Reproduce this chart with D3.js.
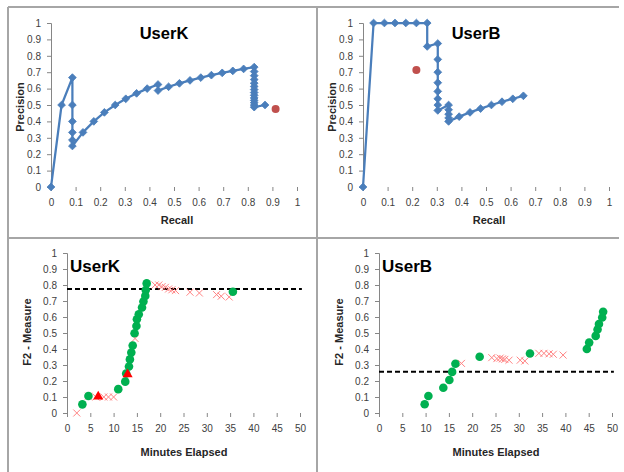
<!DOCTYPE html>
<html>
<head>
<meta charset="utf-8">
<script src="https://cdn.jsdelivr.net/npm/d3@7"></script>
<style>
  body { margin: 0; background: #fff; }
  text { font-family: "Liberation Sans", Arial, sans-serif; }
</style>
</head>
<body>
<svg id="chart" width="624" height="472"></svg>
<script>
// precision / recall curves: [recall, precision]
const userKPR = [[0,0],[0.043,0.5],[0.087,0.667],[0.087,0.5],[0.087,0.4],[0.087,0.333],[0.087,0.286],[0.087,0.25],
  [0.13,0.333],[0.174,0.4],[0.217,0.455],[0.261,0.5],[0.304,0.538],[0.348,0.571],[0.391,0.6],[0.435,0.625],[0.435,0.588],
  [0.478,0.611],[0.522,0.632],[0.565,0.65],[0.609,0.667],[0.652,0.682],[0.696,0.696],[0.739,0.708],[0.783,0.72],
  [0.826,0.731],[0.826,0.704],[0.826,0.679],[0.826,0.655],[0.826,0.633],[0.826,0.613],[0.826,0.594],[0.826,0.576],
  [0.826,0.559],[0.826,0.543],[0.826,0.528],[0.826,0.514],[0.826,0.5],[0.826,0.487],[0.87,0.5]];
const userKFinal = [[0.913,0.476]];

const userBPR = [[0,0],[0.043,1],[0.087,1],[0.13,1],[0.174,1],[0.217,1],[0.261,1],[0.261,0.857],[0.304,0.875],
  [0.304,0.778],[0.304,0.7],[0.304,0.636],[0.304,0.583],[0.304,0.538],[0.304,0.5],[0.304,0.467],[0.348,0.5],
  [0.348,0.471],[0.348,0.444],[0.348,0.421],[0.348,0.4],[0.391,0.429],[0.435,0.455],[0.478,0.478],[0.522,0.5],
  [0.565,0.52],[0.609,0.538],[0.652,0.556]];
const userBFinal = [[0.217,0.714]];

// F2 over time: [minutes, F2]
const userKGood = [[3.3,0.054],[4.6,0.106],[11.0,0.149],[12.5,0.196],[12.7,0.247],[13.3,0.291],[13.5,0.335],
  [13.8,0.378],[14.1,0.422],[14.5,0.498],[14.9,0.544],[15.0,0.586],[15.4,0.617],[16.1,0.659],[16.4,0.697],
  [16.8,0.732],[16.9,0.768],[17.1,0.81],[35.6,0.758]];
const userKTri = [[6.7,0.102],[13.0,0.242]];
const userKBad = [[2.1,0.0],[4.6,0.105],[6.2,0.1],[7.9,0.1],[8.9,0.1],[10.0,0.1],[14.6,0.466],
  [18.9,0.80],[19.7,0.80],[20.4,0.79],[21.1,0.785],[21.8,0.775],[22.5,0.77],[23.3,0.765],
  [26.4,0.755],[28.4,0.75],[32.1,0.74],[33.1,0.73],[34.8,0.725]];
const userKLevel = 0.775;

const userBGood = [[9.8,0.055],[10.6,0.106],[13.8,0.158],[15.1,0.206],[15.7,0.257],[16.4,0.308],[21.6,0.352],
  [32.4,0.372],[44.6,0.40],[45.1,0.44],[46.5,0.482],[46.9,0.522],[47.2,0.556],[47.9,0.597],[48.1,0.633]];
const userBBad = [[17.7,0.31],[24.2,0.346],[25.3,0.34],[26.0,0.343],[26.5,0.338],[27.0,0.335],[27.9,0.33],
  [30.3,0.33],[31.3,0.325],[34.3,0.373],[35.4,0.373],[36.5,0.37],[37.4,0.367],[39.5,0.362]];
const userBLevel = 0.258;

const unitTicks = [0,0.1,0.2,0.3,0.4,0.5,0.6,0.7,0.8,0.9,1];
const minuteTicks = [0,5,10,15,20,25,30,35,40,45,50];

const svg = d3.select('#chart');

// panel frames
const frame = svg.append('g').attr('stroke', '#a6a6a6').attr('stroke-width', 2);
frame.append('line').attr('x1', 8).attr('x2', 619).attr('y1', 7).attr('y2', 7);
frame.append('line').attr('x1', 8).attr('x2', 619).attr('y1', 238).attr('y2', 238);
frame.append('line').attr('x1', 8).attr('x2', 8).attr('y1', 7).attr('y2', 472);
frame.append('line').attr('x1', 317).attr('x2', 317).attr('y1', 7).attr('y2', 472);

function axes(x, y, xTicks, yTicks) {
  const gy = svg.append('g')
    .attr('transform', `translate(${x.range()[0]},0)`)
    .call(d3.axisLeft(y).tickValues(yTicks).tickSize(4).tickPadding(6).tickFormat(d => d));
  const gx = svg.append('g')
    .attr('transform', `translate(0,${y.range()[0]})`)
    .call(d3.axisBottom(x).tickValues(xTicks).tickSize(4).tickPadding(8).tickFormat(d => d));
  gx.select('.domain').remove();
  [gx, gy].forEach(g => {
    g.selectAll('path, line').attr('stroke', '#868686');
    g.selectAll('text').attr('fill', '#404040').style('font-size', '10px');
  });
}

function axisTitles(xLabel, xPos, yLabel, yPos) {
  svg.append('text').attr('x', xPos[0]).attr('y', xPos[1])
    .attr('text-anchor', 'middle').style('font-size', '11px').style('font-weight', 'bold')
    .attr('fill', '#262626').text(xLabel);
  svg.append('text').attr('transform', `translate(${yPos[0]},${yPos[1]}) rotate(-90)`)
    .attr('text-anchor', 'middle').style('font-size', '11px').style('font-weight', 'bold')
    .attr('fill', '#262626').text(yLabel);
}

function drawPR(left, name, curve, final, titleX) {
  const x = d3.scaleLinear().domain([0, 1]).range([left, left + 246]);
  const y = d3.scaleLinear().domain([0, 1]).range([187, 23]);
  axes(x, y, unitTicks, unitTicks);

  const line = d3.line().x(d => x(d[0])).y(d => y(d[1]));
  svg.append('path').datum(curve)
    .attr('fill', 'none').attr('stroke', '#4a7ebb').attr('stroke-width', 2.25)
    .attr('stroke-linejoin', 'round').attr('d', line);

  const diamond = d3.symbol(d3.symbolSquare, 30);
  svg.append('g').selectAll('path').data(curve).join('path')
    .attr('transform', d => `translate(${x(d[0])},${y(d[1])}) rotate(45)`)
    .attr('d', diamond).attr('fill', '#4a7ebb').attr('stroke', '#4a7ebb').attr('stroke-width', 0.8);

  svg.append('g').selectAll('circle').data(final).join('circle')
    .attr('cx', d => x(d[0])).attr('cy', d => y(d[1])).attr('r', 4)
    .attr('fill', '#c0504d');

  svg.append('text').attr('x', titleX).attr('y', 39).attr('text-anchor', 'middle')
    .style('font-size', '16.5px').style('font-weight', 'bold').attr('fill', '#000').text(name);

  axisTitles('Recall', [left + 126, 224], 'Precision', [left - 27, 107]);
}

function drawF2(left, name, good, tri, bad, level) {
  const x = d3.scaleLinear().domain([0, 50]).range([left, left + 233]);
  const y = d3.scaleLinear().domain([0, 1]).range([413, 253]);
  axes(x, y, minuteTicks, unitTicks);

  svg.append('line')
    .attr('x1', x(0)).attr('x2', x(50.4)).attr('y1', y(level)).attr('y2', y(level))
    .attr('stroke', '#000').attr('stroke-width', 2).attr('stroke-dasharray', '5,3');

  svg.append('g').selectAll('path').data(bad).join('path')
    .attr('transform', d => `translate(${x(d[0])},${y(d[1])})`)
    .attr('d', 'M-3.5,-3.5L3.5,3.5M-3.5,3.5L3.5,-3.5')
    .attr('stroke', '#ff6f6f').attr('stroke-width', 1).attr('opacity', 0.85);

  svg.append('g').selectAll('circle').data(good).join('circle')
    .attr('cx', d => x(d[0])).attr('cy', d => y(d[1])).attr('r', 4.3)
    .attr('fill', '#00b050');

  svg.append('g').selectAll('path').data(tri).join('path')
    .attr('transform', d => `translate(${x(d[0])},${y(d[1])})`)
    .attr('d', d3.symbol(d3.symbolTriangle, 45)).attr('fill', '#ff0000');

  svg.append('text').attr('x', left + 3).attr('y', 272)
    .style('font-size', '17px').style('font-weight', 'bold').attr('fill', '#000').text(name);

  axisTitles('Minutes Elapsed', [left + 117, 456], 'F2 - Measure', [left - 36, 332]);
}

drawPR(51, 'UserK', userKPR, userKFinal, 164);
drawPR(363, 'UserB', userBPR, userBFinal, 476);
drawF2(67, 'UserK', userKGood, userKTri, userKBad, userKLevel);
drawF2(379, 'UserB', userBGood, [], userBBad, userBLevel);
</script>
</body>
</html>
